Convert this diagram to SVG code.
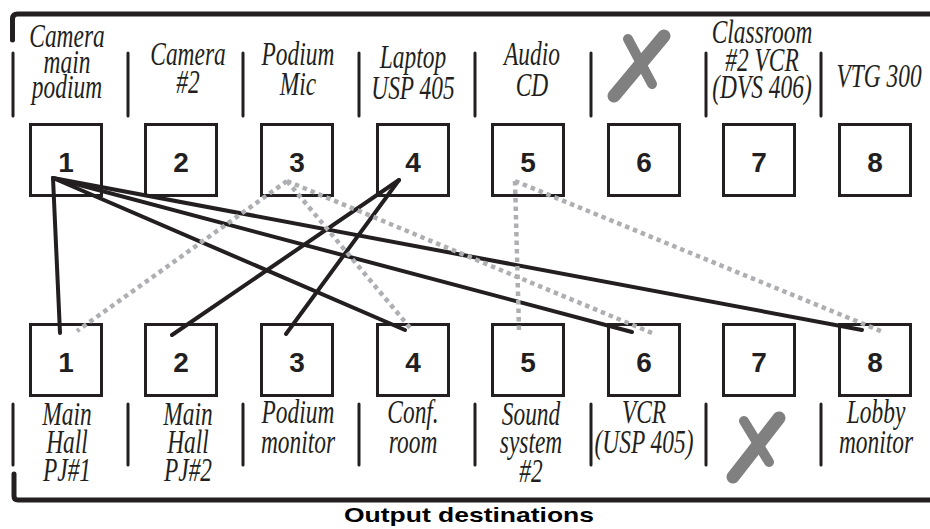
<svg xmlns="http://www.w3.org/2000/svg" width="930" height="529" viewBox="0 0 930 529">
<style>
.box{fill:#fff;stroke:#231f20;stroke-width:3}
.num{font-family:"Liberation Sans",Arial,sans-serif;font-weight:bold;font-size:28px;fill:#231f20;text-anchor:middle}
.lbl{font-family:"Liberation Serif","Times New Roman",serif;font-style:italic;font-size:33px;fill:#231f20;text-anchor:middle}
.sep{stroke:#231f20;stroke-width:3;stroke-linecap:round;fill:none}
.brk{stroke:#231f20;stroke-width:5;stroke-linecap:round;fill:none}
.wire{stroke:#231f20;stroke-width:4;stroke-linecap:round;fill:none}
.dot{stroke:#adafb2;stroke-width:4.5;stroke-dasharray:4.5 4;fill:none}
.x{stroke:#808080;stroke-linecap:round;fill:none}
.title{font-family:"Liberation Sans",Arial,sans-serif;font-weight:bold;font-size:21px;fill:#000;text-anchor:middle}
</style>
<rect width="930" height="529" fill="#fff"/>
<g id="frame">
<path class="brk" d="M12.5 40 L12.5 19 Q12.5 14 17.5 14 L932 14"/>
<path class="brk" d="M14 474 L14 496 Q14 500 18 500 L932 500"/>
</g>
<g id="separators">
<path class="sep" d="M13 53V116M128 53V116M243 53V116M359 53V116M475 53V116M591 53V116M706 53V116M821 53V116"/>
<path class="sep" d="M13 404V465M128 404V465M243 404V465M359 404V465M475 404V465M591 404V465M706 404V465M821 404V465"/>
</g>
<g id="in1"><rect class="box" x="30.5" y="124.5" width="71" height="71"/><text class="num" x="66" y="172">1</text>
<text class="lbl" transform="translate(67,0) scale(0.71,1)"><tspan x="0" y="47">Camera</tspan><tspan x="0" y="73">main</tspan><tspan x="0" y="98">podium</tspan></text></g>
<g id="in2"><rect class="box" x="145.5" y="124.5" width="71" height="71"/><text class="num" x="181" y="172">2</text>
<text class="lbl" transform="translate(188,0) scale(0.71,1)"><tspan x="0" y="65">Camera</tspan><tspan x="0" y="93">#2</tspan></text></g>
<g id="in3"><rect class="box" x="261.5" y="124.5" width="71" height="71"/><text class="num" x="297" y="172">3</text>
<text class="lbl" transform="translate(298,0) scale(0.71,1)"><tspan x="0" y="65">Podium</tspan><tspan x="0" y="95">Mic</tspan></text></g>
<g id="in4"><rect class="box" x="377.5" y="124.5" width="71" height="71"/><text class="num" x="413" y="172">4</text>
<text class="lbl" transform="translate(413,0) scale(0.71,1)"><tspan x="0" y="68">Laptop</tspan><tspan x="0" y="99">USP 405</tspan></text></g>
<g id="in5"><rect class="box" x="492.5" y="124.5" width="71" height="71"/><text class="num" x="528" y="172">5</text>
<text class="lbl" transform="translate(532,0) scale(0.71,1)"><tspan x="0" y="65">Audio</tspan><tspan x="0" y="96">CD</tspan></text></g>
<g id="in6"><rect class="box" x="608.5" y="124.5" width="71" height="71"/><text class="num" x="644" y="172">6</text>
<path class="x" stroke-width="13" d="M614 96 L664 36"/><path class="x" stroke-width="10" d="M628 39 L652 84"/></g>
<g id="in7"><rect class="box" x="723.5" y="124.5" width="71" height="71"/><text class="num" x="759" y="172">7</text>
<text class="lbl" transform="translate(762,0) scale(0.71,1)"><tspan x="0" y="43">Classroom</tspan><tspan x="0" y="71">#2 VCR</tspan><tspan x="0" y="98">(DVS 406)</tspan></text></g>
<g id="in8"><rect class="box" x="839.5" y="124.5" width="71" height="71"/><text class="num" x="875" y="172">8</text>
<text class="lbl" transform="translate(879,0) scale(0.71,1)"><tspan x="0" y="87">VTG 300</tspan></text></g>

<g id="out1"><rect class="box" x="30.5" y="324.5" width="71" height="71"/><text class="num" x="66" y="372">1</text>
<text class="lbl" transform="translate(67,0) scale(0.71,1)"><tspan x="0" y="425">Main</tspan><tspan x="0" y="453">Hall</tspan><tspan x="0" y="481">PJ#1</tspan></text></g>
<g id="out2"><rect class="box" x="145.5" y="324.5" width="71" height="71"/><text class="num" x="181" y="372">2</text>
<text class="lbl" transform="translate(188,0) scale(0.71,1)"><tspan x="0" y="425">Main</tspan><tspan x="0" y="453">Hall</tspan><tspan x="0" y="481">PJ#2</tspan></text></g>
<g id="out3"><rect class="box" x="261.5" y="324.5" width="71" height="71"/><text class="num" x="297" y="372">3</text>
<text class="lbl" transform="translate(298,0) scale(0.71,1)"><tspan x="0" y="423">Podium</tspan><tspan x="0" y="453">monitor</tspan></text></g>
<g id="out4"><rect class="box" x="377.5" y="324.5" width="71" height="71"/><text class="num" x="413" y="372">4</text>
<text class="lbl" transform="translate(413,0) scale(0.71,1)"><tspan x="0" y="423">Conf.</tspan><tspan x="0" y="453">room</tspan></text></g>
<g id="out5"><rect class="box" x="492.5" y="324.5" width="71" height="71"/><text class="num" x="528" y="372">5</text>
<text class="lbl" transform="translate(531,0) scale(0.71,1)"><tspan x="0" y="425">Sound</tspan><tspan x="0" y="453">system</tspan><tspan x="0" y="482">#2</tspan></text></g>
<g id="out6"><rect class="box" x="608.5" y="324.5" width="71" height="71"/><text class="num" x="644" y="372">6</text>
<text class="lbl" transform="translate(644,0) scale(0.71,1)"><tspan x="0" y="423">VCR</tspan><tspan x="0" y="453">(USP 405)</tspan></text></g>
<g id="out7"><rect class="box" x="723.5" y="324.5" width="71" height="71"/><text class="num" x="759" y="372">7</text>
<path class="x" stroke-width="13" d="M733 477 L779 418"/><path class="x" stroke-width="10" d="M744 421 L769 462"/></g>
<g id="out8"><rect class="box" x="839.5" y="324.5" width="71" height="71"/><text class="num" x="875" y="372">8</text>
<text class="lbl" transform="translate(876,0) scale(0.71,1)"><tspan x="0" y="423">Lobby</tspan><tspan x="0" y="453">monitor</tspan></text></g>

<g id="connectors">
<path class="wire" d="M53 178 L60 333"/>
<path class="wire" d="M53 178 L405 330"/>
<path class="wire" d="M53 178 L632 332"/>
<path class="wire" d="M53 178 L862 330"/>
<path class="wire" d="M399 180 L172 335"/>
<path class="wire" d="M399 180 L286 334"/>
<path class="dot" d="M287 181 L77 331"/>
<path class="dot" d="M287 181 L411 329"/>
<path class="dot" d="M287 181 L652 333"/>
<path class="dot" d="M515 181 L519 330"/>
<path class="dot" d="M515 181 L883 332"/>
</g>
<text id="title" class="title" x="469" y="522" textLength="250" lengthAdjust="spacingAndGlyphs">Output destinations</text>
</svg>
